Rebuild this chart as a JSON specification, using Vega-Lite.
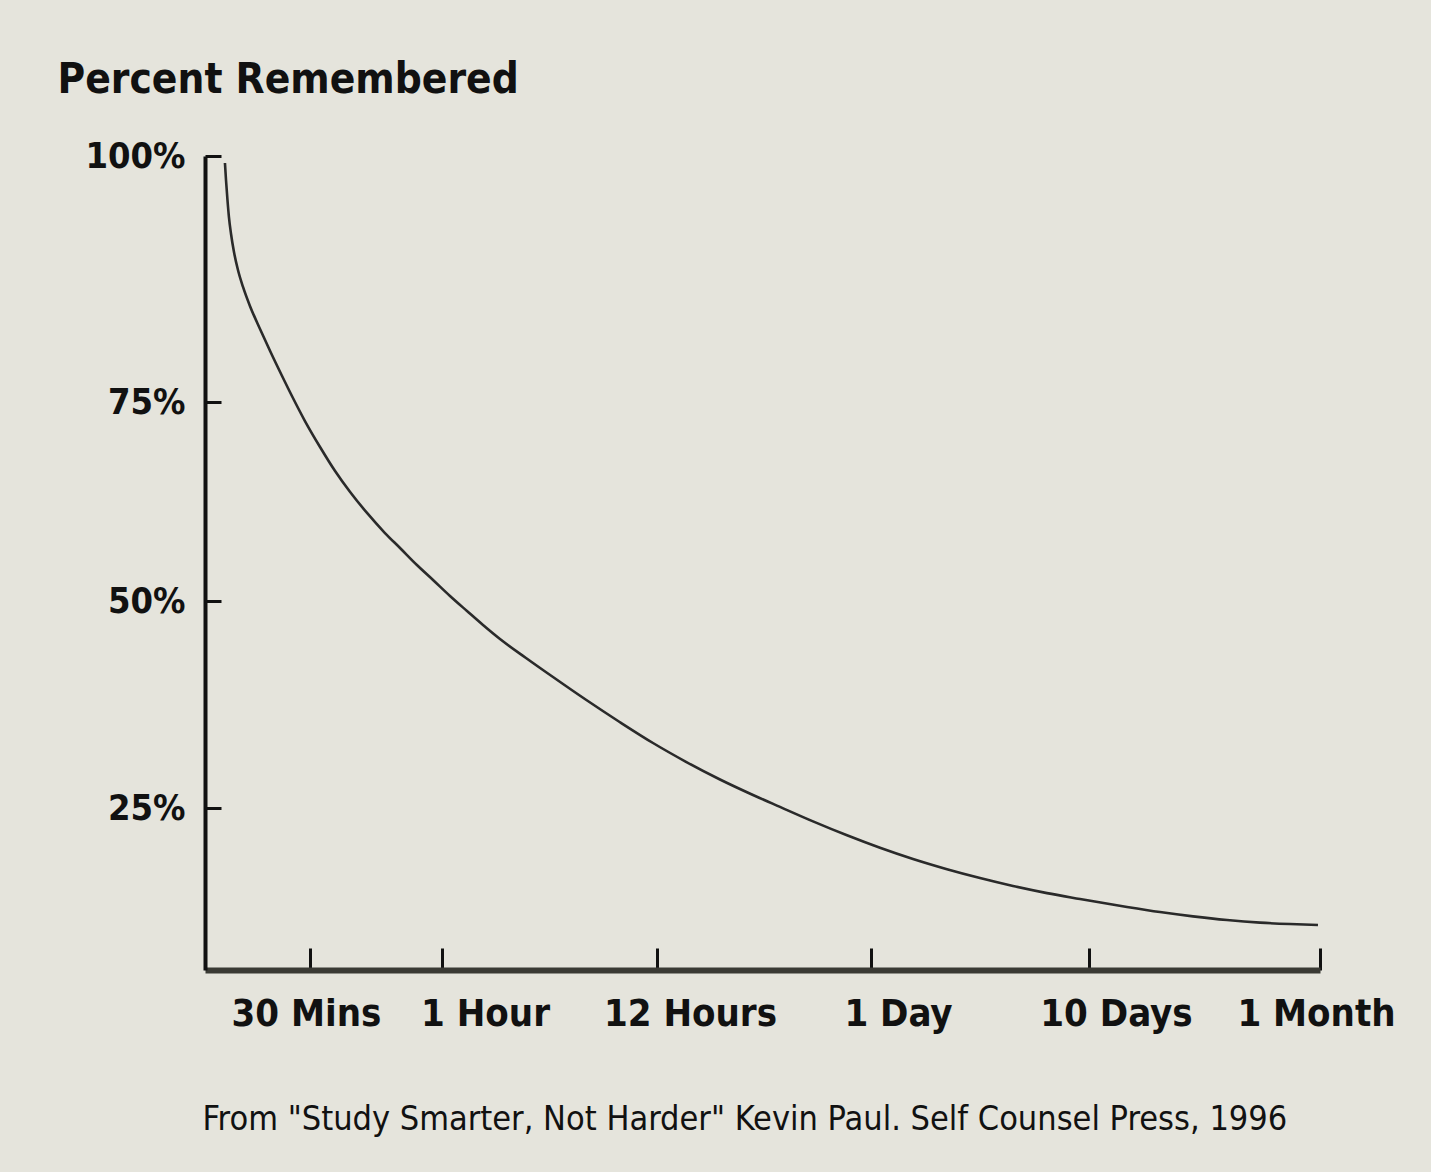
{
  "$schema": "https://vega.github.io/schema/vega-lite/v6.json",
  "width": 1115,
  "height": 820,
  "autosize": {"type": "none"},
  "padding": {"left": 205, "top": 150, "right": 111, "bottom": 202},
  "background": "#e5e4dc",
  "config": {"view": {"stroke": null}, "font": "DejaVu Sans Condensed, DejaVu Sans, sans-serif"},
  "data": {
    "values": [
      {"hours": 0.095, "percent": 99.29},
      {"hours": 0.1, "percent": 97.56},
      {"hours": 0.107, "percent": 95.53},
      {"hours": 0.114, "percent": 93.8},
      {"hours": 0.124, "percent": 92.07},
      {"hours": 0.138, "percent": 90.24},
      {"hours": 0.157, "percent": 88.41},
      {"hours": 0.181, "percent": 86.69},
      {"hours": 0.214, "percent": 84.76},
      {"hours": 0.262, "percent": 82.42},
      {"hours": 0.31, "percent": 80.18},
      {"hours": 0.367, "percent": 77.64},
      {"hours": 0.414, "percent": 75.61},
      {"hours": 0.476, "percent": 72.61},
      {"hours": 0.538, "percent": 69.35},
      {"hours": 0.595, "percent": 66.33},
      {"hours": 0.652, "percent": 63.69},
      {"hours": 0.716, "percent": 61.06},
      {"hours": 0.784, "percent": 58.54},
      {"hours": 0.841, "percent": 56.66},
      {"hours": 0.905, "percent": 54.52},
      {"hours": 0.966, "percent": 52.64},
      {"hours": 1.409, "percent": 50.63},
      {"hours": 2.279, "percent": 48.79},
      {"hours": 3.098, "percent": 47.1},
      {"hours": 3.967, "percent": 45.41},
      {"hours": 5.298, "percent": 43.12},
      {"hours": 6.679, "percent": 40.82},
      {"hours": 8.367, "percent": 38.07},
      {"hours": 10.107, "percent": 35.36},
      {"hours": 11.795, "percent": 32.85},
      {"hours": 13.626, "percent": 30.58},
      {"hours": 15.533, "percent": 28.44},
      {"hours": 17.383, "percent": 26.57},
      {"hours": 18.897, "percent": 25.13},
      {"hours": 20.748, "percent": 23.35},
      {"hours": 22.654, "percent": 21.63},
      {"hours": 32.92, "percent": 20.09},
      {"hours": 65.61, "percent": 18.7},
      {"hours": 99.3, "percent": 17.44},
      {"hours": 132.0, "percent": 16.35},
      {"hours": 164.7, "percent": 15.37},
      {"hours": 198.4, "percent": 14.49},
      {"hours": 231.1, "percent": 13.77},
      {"hours": 319.0, "percent": 12.78},
      {"hours": 387.5, "percent": 12.15},
      {"hours": 456.1, "percent": 11.62},
      {"hours": 526.8, "percent": 11.17},
      {"hours": 595.3, "percent": 10.85},
      {"hours": 657.7, "percent": 10.67},
      {"hours": 715.8, "percent": 10.56}
    ]
  },
  "mark": {"type": "line", "interpolate": "monotone", "color": "#2a2a2a", "strokeWidth": 2.6},
  "encoding": {
    "x": {
      "field": "hours",
      "type": "quantitative",
      "scale": {"domain": [0, 0.5, 1, 12, 24, 240, 720], "range": [0, 105, 237, 452, 666, 884, 1115], "nice": false, "zero": false},
      "axis": {
        "values": [0.5, 1, 12, 24, 240, 720],
        "labelExpr": "datum.value == 0.5 ? '30 Mins' : datum.value == 1 ? '1 Hour' : datum.value == 12 ? '12 Hours' : datum.value == 24 ? '1 Day' : datum.value == 240 ? '10 Days' : '1 Month'",
        "labelFont": "DejaVu Sans Condensed, DejaVu Sans, sans-serif",
        "labelFontSize": 38,
        "labelFontWeight": "bold",
        "labelColor": "#111111",
        "labelBaseline": "top",
        "labelPadding": 47,
        "labelLimit": 0,
        "labelFlush": false,
        "labelOverlap": false,
        "labelOffset": {
          "condition": [
            {"test": "datum.value == 1", "value": 43},
            {"test": "datum.value == 12", "value": 33},
            {"test": "datum.value == 24", "value": 27},
            {"test": "datum.value == 240", "value": 27}
          ],
          "value": -4
        },
        "tickSize": -22,
        "tickWidth": 3,
        "tickColor": "#111111",
        "domainWidth": 6,
        "domainColor": "#3a3a34",
        "grid": false,
        "title": "From \"Study Smarter, Not Harder\" Kevin Paul. Self Counsel Press, 1996",
        "titleFont": "DejaVu Sans Condensed, DejaVu Sans, sans-serif",
        "titleFontSize": 34,
        "titleFontWeight": "normal",
        "titleColor": "#111111",
        "titleAlign": "left",
        "titleBaseline": "alphabetic",
        "titleLimit": 0,
        "titleX": -3,
        "titleY": 159
      }
    },
    "y": {
      "field": "percent",
      "type": "quantitative",
      "scale": {"domain": [5, 25, 50, 75, 100], "range": [820, 658, 451, 252, 6], "nice": false, "zero": false},
      "axis": {
        "values": [25, 50, 75, 100],
        "labelExpr": "datum.value + '%'",
        "labelFont": "DejaVu Sans Condensed, DejaVu Sans, sans-serif",
        "labelFontSize": 36,
        "labelFontWeight": "bold",
        "labelColor": "#111111",
        "labelPadding": 36,
        "labelLimit": 0,
        "labelBaseline": "middle",
        "tickSize": -16,
        "tickWidth": 3,
        "tickColor": "#111111",
        "domainWidth": 4,
        "domainColor": "#111111",
        "grid": false,
        "title": "Percent Remembered",
        "titleFont": "DejaVu Sans Condensed, DejaVu Sans, sans-serif",
        "titleFontSize": 42,
        "titleFontWeight": "bold",
        "titleColor": "#111111",
        "titleAngle": 0,
        "titleAlign": "left",
        "titleBaseline": "alphabetic",
        "titleLimit": 0,
        "titleX": -148,
        "titleY": -58
      }
    }
  }
}
